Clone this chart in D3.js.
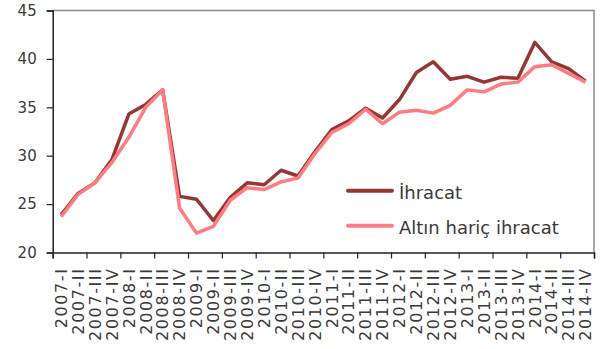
<!DOCTYPE html>
<html>
<head>
<meta charset="utf-8">
<script src="https://cdn.jsdelivr.net/npm/d3@7/dist/d3.min.js"></script>
<style>
  html, body { margin: 0; padding: 0; background: #fff; }
  svg { display: block; font-family: "DejaVu Sans", sans-serif; }
</style>
</head>
<body>
<svg id="chart" width="604" height="349"></svg>
<script>
// Quarterly periods 2007-I … 2014-IV
const quarters = ["2007-I","2007-II","2007-III","2007-IV",
  "2008-I","2008-II","2008-III","2008-IV",
  "2009-I","2009-II","2009-III","2009-IV",
  "2010-I","2010-II","2010-III","2010-IV",
  "2011-I","2011-II","2011-III","2011-IV",
  "2012-I","2012-II","2012-III","2012-IV",
  "2013-I","2013-II","2013-III","2013-IV",
  "2014-I","2014-II","2014-III","2014-IV"];

// Exports (İhracat)
const ihracat = [23.9, 26.1, 27.2, 29.6, 34.3, 35.3, 36.8, 25.8,
  25.5, 23.3, 25.7, 27.2, 27.0, 28.5, 27.9, 30.4,
  32.7, 33.6, 34.9, 33.9, 35.8, 38.6, 39.7, 37.9,
  38.2, 37.6, 38.1, 38.0, 41.7, 39.7, 39.0, 37.7];

// Exports excluding gold (Altın hariç ihracat)
const altinHaric = [23.7, 26.0, 27.2, 29.3, 31.9, 35.0, 36.8, 24.6,
  22.0, 22.7, 25.4, 26.7, 26.5, 27.3, 27.7, 30.2,
  32.4, 33.3, 34.8, 33.3, 34.5, 34.7, 34.4, 35.2,
  36.8, 36.6, 37.4, 37.6, 39.2, 39.4, 38.5, 37.6];

const yTicks = [20, 25, 30, 35, 40, 45];

const seriesNames = ["İhracat", "Altın hariç ihracat"];
const seriesColors = ["#953735", "#FF7C80"];

const svg = d3.select("#chart");
const plotLeft = 52.7, plotRight = 594, plotTop = 10.5, plotBottom = 252.5;

const x = d3.scaleBand().domain(quarters).range([plotLeft, plotRight]).padding(0);
const xTick = d3.scaleLinear().domain([0, quarters.length]).range([plotLeft, plotRight]);
const y = d3.scaleLinear().domain([20, 45]).range([plotBottom, plotTop]);

// plot frame: light top/right borders
svg.append("path")
  .attr("d", `M${plotLeft},${plotTop}H${plotRight}V${plotBottom}`)
  .attr("fill", "none").attr("stroke", "#8c8c8c").attr("stroke-width", 1.5);

// y axis
const yAxis = svg.append("g")
  .attr("transform", `translate(${plotLeft},0)`)
  .call(d3.axisLeft(y).tickValues(yTicks).tickSize(6).tickPadding(10).tickFormat(d3.format("d")));
yAxis.select(".domain").attr("stroke", "#222").attr("stroke-width", 1.5);
yAxis.selectAll(".tick line").attr("stroke", "#222").attr("stroke-width", 1.2);
yAxis.selectAll("text").attr("font-size", 15).attr("fill", "#3a3a3a")
  .attr("font-family", "DejaVu Sans");

// x axis: tick marks every two quarters
const xAxis = svg.append("g")
  .attr("transform", `translate(0,${plotBottom})`)
  .call(d3.axisBottom(xTick).tickValues(d3.range(0, quarters.length + 1, 2)).tickSize(6).tickFormat(""));
xAxis.select(".domain").attr("stroke", "#222").attr("stroke-width", 1.5);
xAxis.selectAll(".tick line").attr("stroke", "#222").attr("stroke-width", 1.2);

// rotated quarter labels
svg.append("g").selectAll("text")
  .data(quarters)
  .join("text")
  .attr("transform", d => `translate(${x(d) + x.bandwidth() / 2},${plotBottom + 15}) rotate(-90)`)
  .attr("dy", "0.36em")
  .attr("text-anchor", "end")
  .attr("font-size", 16)
  .attr("letter-spacing", 1.6)
  .attr("fill", "#3a3a3a")
  .text(d => d);

// series lines
const line = d3.line()
  .x((d, i) => x(quarters[i]) + x.bandwidth() / 2)
  .y(d => y(d));

[ihracat, altinHaric].forEach((vals, k) => {
  svg.append("path")
    .datum(vals)
    .attr("d", line)
    .attr("fill", "none")
    .attr("stroke", seriesColors[k])
    .attr("stroke-width", 3.5)
    .attr("stroke-linejoin", "round");
});

// legend
const legend = svg.append("g");
seriesNames.forEach((name, k) => {
  const ly = 190.7 + k * 35;
  legend.append("line")
    .attr("x1", 348).attr("x2", 392).attr("y1", ly).attr("y2", ly)
    .attr("stroke", seriesColors[k]).attr("stroke-width", 4).attr("stroke-linecap", "round");
  legend.append("text")
    .attr("x", 399).attr("y", ly + 8.5)
    .attr("font-size", 18)
    .attr("fill", "#3a3a3a")
    .text(name);
});
</script>
</body>
</html>
